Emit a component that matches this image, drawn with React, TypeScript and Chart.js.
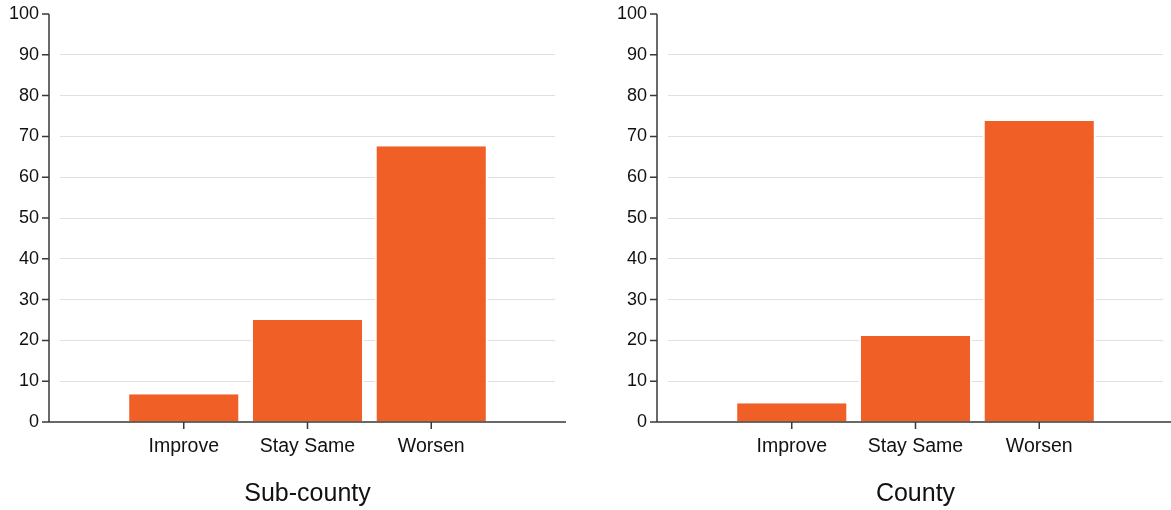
import React, { useEffect, useRef } from 'react';
import { Chart, registerables } from 'chart.js';

Chart.register(...registerables);

const categories = ['Improve', 'Stay Same', 'Worsen'];
const subCountyValues = [6.8, 25.0, 67.6];
const countyValues = [4.6, 21.1, 73.8];
const panelTitles = ['Sub-county', 'County'];
const yMin = 0;
const yMax = 100;
const yStep = 10;

const FONT = "'Liberation Sans', Arial, Helvetica, sans-serif";
const BAR_COLOR = '#f05f26';
const AXIS_COLOR = '#383838';
const GRID_COLOR = '#e0e0e0';
const TEXT_COLOR = '#111111';
const H = 510;
const AREA_LEFT = 60;
const AREA_RIGHT = 555;
const AREA_TOP = 14;
const AREA_BOTTOM = 422;

Chart.defaults.font.family = FONT;

const offsetAxesPlugin = {
  id: 'offsetAxes',
  afterDraw(chart: any) {
    const { ctx, chartArea, scales } = chart;
    const xs = scales.x;
    const ys = scales.y;
    const gap = 11;
    const tick = 7;
    const ax = chartArea.left - gap;
    const y0 = ys.getPixelForValue(yMin);
    const y1 = ys.getPixelForValue(yMax);
    ctx.save();
    ctx.strokeStyle = AXIS_COLOR;
    ctx.lineWidth = 1.5;
    ctx.beginPath();
    ctx.moveTo(ax, y1);
    ctx.lineTo(ax, y0);
    ctx.moveTo(ax, y0);
    ctx.lineTo(chartArea.right + gap, y0);
    ys.ticks.forEach((t: any) => {
      const p = ys.getPixelForValue(t.value);
      ctx.moveTo(ax - tick, p);
      ctx.lineTo(ax, p);
    });
    xs.ticks.forEach((t: any) => {
      const p = xs.getPixelForValue(t.value);
      ctx.moveTo(p, y0);
      ctx.lineTo(p, y0 + tick);
    });
    ctx.stroke();
    ctx.restore();
  },
};

function Panel({ values, title, left, width }: { values: number[]; title: string; left: number; width: number }) {
  const ref = useRef<HTMLCanvasElement>(null);
  useEffect(() => {
    if (!ref.current) return;
    const chart = new Chart(ref.current, {
      type: 'bar',
      data: {
        datasets: [
          {
            data: values.map((v, i) => ({ x: i + 1, y: v })),
            backgroundColor: BAR_COLOR,
            borderColor: '#ffffff',
            borderWidth: { left: 2, right: 2, top: 0, bottom: 0 },
            barPercentage: 0.9135,
            categoryPercentage: 1,
          } as any,
        ],
      },
      options: {
        animation: false,
        responsive: false,
        devicePixelRatio: 1,
        layout: { padding: { top: AREA_TOP, right: width - AREA_RIGHT, left: 0, bottom: 0 } },
        plugins: {
          legend: { display: false },
          tooltip: { enabled: false },
        },
        scales: {
          x: {
            type: 'linear',
            offset: false,
            min: 0,
            max: categories.length + 1,
            afterBuildTicks: (s: any) => {
              s.ticks = categories.map((_, i) => ({ value: i + 1 }));
            },
            afterFit: (s: any) => {
              s.height = H - AREA_BOTTOM;
              s.paddingLeft = 0;
              s.paddingRight = 0;
            },
            ticks: {
              callback: (v: any) => categories[Number(v) - 1] ?? '',
              font: { size: 19.5, family: FONT },
              color: TEXT_COLOR,
              padding: 5,
              autoSkip: false,
              maxRotation: 0,
            },
            grid: { display: false, offset: false },
            border: { display: false },
            title: {
              display: true,
              text: title,
              font: { size: 25, family: FONT },
              color: TEXT_COLOR,
              padding: { top: 0, bottom: 1 },
            },
          },
          y: {
            min: yMin,
            max: yMax,
            ticks: {
              stepSize: yStep,
              font: { size: 18, family: FONT },
              color: TEXT_COLOR,
              padding: 21,
            },
            grid: {
              color: (c: any) => (c.tick && c.tick.value > yMin && c.tick.value < yMax ? GRID_COLOR : 'rgba(0,0,0,0)'),
              drawTicks: false,
              lineWidth: 1,
            },
            border: { display: false },
            afterFit: (s: any) => {
              s.width = AREA_LEFT;
              s.paddingTop = 0;
              s.paddingBottom = 0;
            },
          },
        },
      } as any,
      plugins: [offsetAxesPlugin],
    });
    return () => chart.destroy();
  }, [values, title, width]);
  return (
    <canvas
      ref={ref}
      width={width}
      height={H}
      style={{ position: 'absolute', left, top: 0, width, height: H }}
    />
  );
}

export default function App() {
  return (
    <div style={{ position: 'fixed', left: 0, top: 0, width: 1171, height: H, background: '#ffffff' }}>
      <Panel values={subCountyValues} title={panelTitles[0]} left={0} width={608} />
      <Panel values={countyValues} title={panelTitles[1]} left={608} width={563} />
    </div>
  );
}
